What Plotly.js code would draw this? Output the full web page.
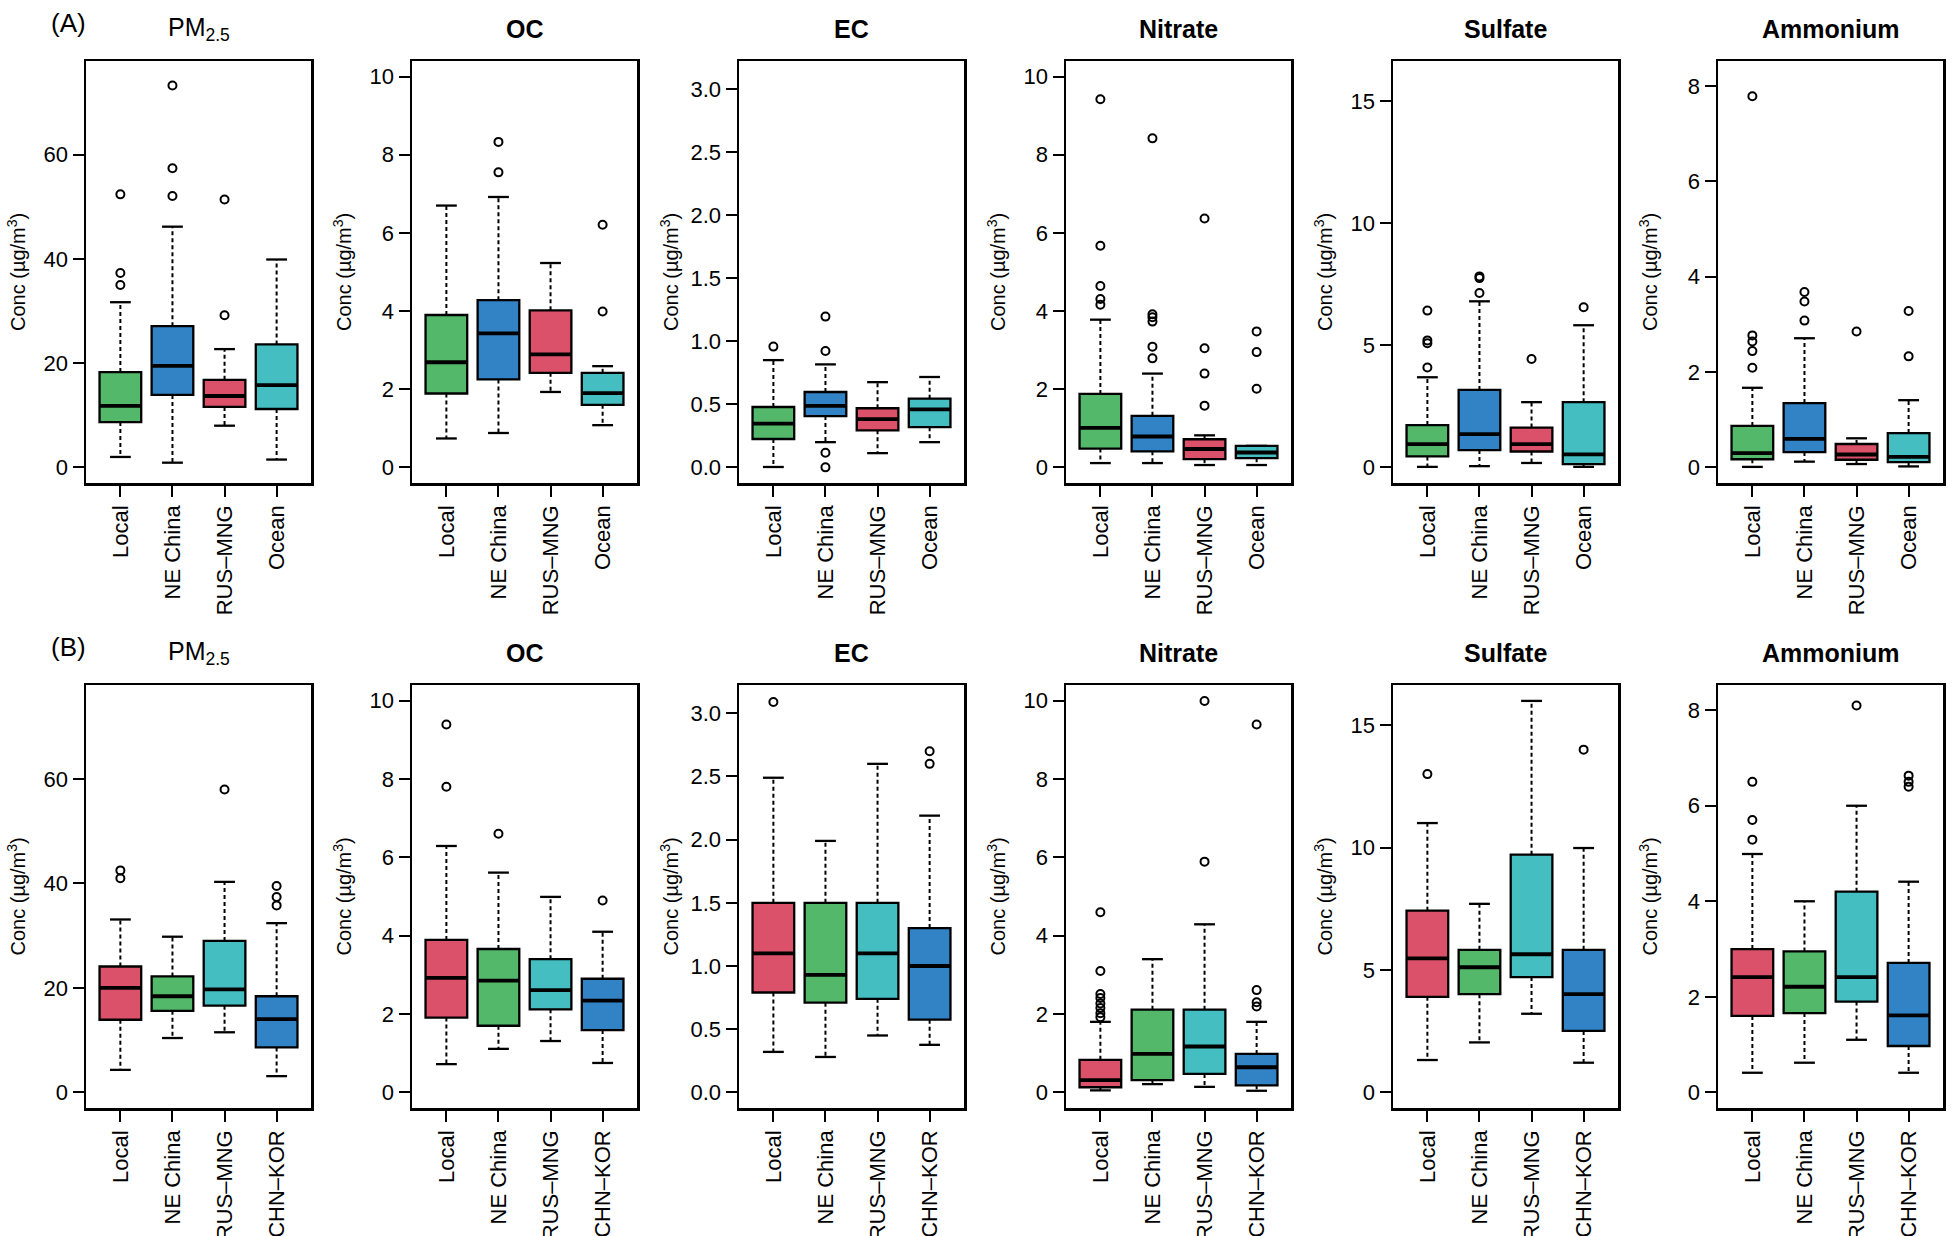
<!DOCTYPE html>
<html>
<head>
<meta charset="utf-8">
<script src="https://cdn.plot.ly/plotly-3.0.1.min.js"></script>
<style>html,body{margin:0;padding:0;background:#fff}</style>
</head>
<body>
<div id="chart" style="width:1952px;height:1236px"></div>
<script>
// species in column order
var species = ['PM<sub>2.5</sub>', '<b>OC</b>', '<b>EC</b>', '<b>Nitrate</b>', '<b>Sulfate</b>', '<b>Ammonium</b>'];
var catsA = ['Local', 'NE China', 'RUS\u2013MNG', 'Ocean'];
var catsB = ['Local', 'NE China', 'RUS\u2013MNG', 'CHN\u2013KOR'];
var yLim = [75, 10, 3.1, 10, 16, 8.2];
var yStep = [20, 2, 0.5, 2, 5, 2];

// (A) box stats, one row per species, one value per category
var q1A = [[8.7, 13.9, 11.6, 11.2], [1.89, 2.25, 2.42, 1.60], [0.225, 0.407, 0.294, 0.319],
           [0.48, 0.41, 0.21, 0.235], [0.45, 0.71, 0.65, 0.13], [0.17, 0.32, 0.16, 0.11]];
var medA = [[11.8, 19.5, 13.7, 15.8], [2.69, 3.43, 2.89, 1.90], [0.347, 0.488, 0.382, 0.460],
            [1.01, 0.79, 0.47, 0.38], [0.95, 1.36, 0.95, 0.53], [0.30, 0.60, 0.27, 0.22]];
var q3A = [[18.3, 27.1, 16.8, 23.6], [3.90, 4.28, 4.02, 2.42], [0.479, 0.598, 0.469, 0.545],
           [1.88, 1.32, 0.72, 0.55], [1.73, 3.17, 1.63, 2.67], [0.87, 1.35, 0.49, 0.72]];
var loA = [[2.0, 0.9, 8.0, 1.5], [0.74, 0.88, 1.93, 1.08], [0.003, 0.200, 0.113, 0.200],
           [0.11, 0.11, 0.06, 0.06], [0.02, 0.05, 0.18, 0.02], [0.01, 0.12, 0.07, 0.02]];
var hiA = [[31.7, 46.2, 22.7, 39.9], [6.70, 6.92, 5.23, 2.59], [0.851, 0.817, 0.676, 0.717],
           [3.78, 2.40, 0.82, 0.55], [3.69, 6.80, 2.67, 5.82], [1.67, 2.71, 0.61, 1.41]];
var outA = [
  [[52.4, 37.3, 35.0], [73.3, 57.4, 52.1], [51.4, 29.2], []],
  [[], [8.33, 7.55], [], [6.21, 3.99]],
  [[0.958], [1.196, 0.923, 0.116, 0.0], [], []],
  [[9.42, 5.67, 4.64, 4.31, 4.16], [8.42, 3.92, 3.84, 3.73, 3.09, 2.79], [6.37, 3.05, 2.40, 1.58], [3.48, 2.95, 2.01]],
  [[6.42, 5.20, 5.08, 4.09], [7.82, 7.75, 7.14], [4.44], [6.56]],
  [[7.79, 2.77, 2.64, 2.44, 2.09], [3.68, 3.48, 3.08], [2.85], [3.28, 2.33]]
];

// (B) box stats
var q1B = [[13.9, 15.6, 16.6, 8.6], [1.91, 1.70, 2.12, 1.59], [0.79, 0.71, 0.74, 0.575],
           [0.13, 0.31, 0.47, 0.18], [3.90, 4.01, 4.71, 2.51], [1.60, 1.66, 1.90, 0.97]];
var medB = [[20.0, 18.4, 19.7, 14.0], [2.92, 2.85, 2.61, 2.34], [1.10, 0.93, 1.10, 1.00],
            [0.31, 0.98, 1.17, 0.64], [5.47, 5.11, 5.64, 4.01], [2.41, 2.21, 2.41, 1.61]];
var q3B = [[24.1, 22.2, 29.0, 18.4], [3.89, 3.66, 3.40, 2.90], [1.50, 1.50, 1.50, 1.30],
           [0.83, 2.11, 2.11, 0.98], [7.42, 5.82, 9.71, 5.82], [3.00, 2.95, 4.20, 2.71]];
var loB = [[4.3, 10.4, 11.5, 3.1], [0.72, 1.11, 1.31, 0.75], [0.32, 0.28, 0.45, 0.376],
           [0.05, 0.21, 0.14, 0.04], [1.32, 2.04, 3.21, 1.21], [0.41, 0.62, 1.10, 0.41]];
var hiB = [[33.1, 29.8, 40.3, 32.4], [6.29, 5.61, 4.99, 4.10], [2.49, 1.99, 2.60, 2.19],
           [1.80, 3.40, 4.29, 1.80], [11.0, 7.70, 15.99, 9.98], [4.99, 4.00, 6.00, 4.41]];
var outB = [
  [[42.5, 41.0], [], [58.0], [39.5, 37.4, 35.8]],
  [[9.39, 7.80], [6.60], [], [4.90]],
  [[3.09], [], [], [2.70, 2.60]],
  [[4.60, 3.10, 2.51, 2.41, 2.27, 2.15, 2.02, 1.92], [], [9.99, 5.89], [9.39, 2.61, 2.30, 2.19]],
  [[13.0], [], [], [14.0]],
  [[6.50, 5.70, 5.29], [], [8.10], [6.63, 6.50, 6.40]]
];

var green = '#54B86A', blue = '#3283C6', red = '#DA5169', cyan = '#44BEC0';
var colorsA = [green, blue, red, cyan];
var colorsB = [red, green, cyan, blue];

var W = 1952, H = 1236;
var lefts = [86, 412, 739, 1066, 1393, 1718];
var pw = 225;
var rowTop = [61, 685], rowBot = [483, 1108];
var fontFam = 'Liberation Sans, Arial, sans-serif';

var rowsData = [
  {q1: q1A, med: medA, q3: q3A, lo: loA, hi: hiA, out: outA, cats: catsA, colors: colorsA, tag: '(A)'},
  {q1: q1B, med: medB, q3: q3B, lo: loB, hi: hiB, out: outB, cats: catsB, colors: colorsB, tag: '(B)'}
];

var traces = [];
var layout = {
  width: W, height: H,
  margin: {l: 0, r: 0, t: 0, b: 0},
  paper_bgcolor: '#fff', plot_bgcolor: '#fff',
  showlegend: false,
  font: {family: fontFam, color: '#000'},
  annotations: []
};

rowsData.forEach(function (rd, r) {
  layout.annotations.push({
    text: rd.tag, xref: 'paper', yref: 'paper', showarrow: false,
    x: 68 / W, y: 1 - (rowTop[r] - 38.5) / H, xanchor: 'center', yanchor: 'middle',
    font: {size: 26, family: fontFam, color: '#000'}
  });
  for (var s = 0; s < 6; s++) {
    var n = r * 6 + s + 1;
    var sfx = n === 1 ? '' : String(n);
    var xa = 'x' + sfx, ya = 'y' + sfx;
    layout['xaxis' + sfx] = {
      domain: [lefts[s] / W, (lefts[s] + pw) / W], anchor: ya,
      range: [0.34, 4.66], tickmode: 'array', tickvals: [1, 2, 3, 4], ticktext: rd.cats,
      tickangle: -90, ticks: 'outside', ticklen: 11, tickwidth: 2, tickcolor: '#000',
      showline: true, mirror: true, linewidth: 2.5, linecolor: '#000',
      showgrid: false, zeroline: false, fixedrange: true,
      tickfont: {size: 22, family: fontFam, color: '#000'}
    };
    layout['yaxis' + sfx] = {
      domain: [1 - rowBot[r] / H, 1 - rowTop[r] / H], anchor: xa,
      range: [-0.04 * yLim[s], 1.04 * yLim[s]], tickmode: 'linear', tick0: 0, dtick: yStep[s],
      tickformat: s === 2 ? '.1f' : '',
      ticks: 'outside', ticklen: 11, tickwidth: 2, tickcolor: '#000',
      showline: true, mirror: true, linewidth: 2.5, linecolor: '#000',
      showgrid: false, zeroline: false, fixedrange: true,
      tickfont: {size: 22, family: fontFam, color: '#000'}
    };
    // panel title and y title
    layout.annotations.push({
      text: species[s], xref: 'paper', yref: 'paper', showarrow: false,
      x: (lefts[s] + pw / 2) / W, y: 1 - (rowTop[r] - 32.5) / H, xanchor: 'center', yanchor: 'middle',
      font: {size: 25, family: fontFam, color: '#000'}
    });
    layout.annotations.push({
      text: 'Conc (\u00b5g/m<sup>3</sup>)', xref: 'paper', yref: 'paper', showarrow: false,
      x: (lefts[s] - 70) / W, y: 1 - (rowTop[r] + rowBot[r]) / 2 / H, xanchor: 'center', yanchor: 'middle',
      textangle: -90, font: {size: 20, family: fontFam, color: '#000'}
    });

    var wx = [], wy = [], cx = [], cy = [], mx = [], my = [], ox = [], oy = [];
    for (var k = 0; k < 4; k++) {
      var p = k + 1;
      traces.push({
        type: 'box', x: [p], q1: [rd.q1[s][k]], median: [rd.med[s][k]], q3: [rd.q3[s][k]],
        lowerfence: [rd.q1[s][k]], upperfence: [rd.q3[s][k]],
        width: 0.8, whiskerwidth: 0, boxpoints: false,
        fillcolor: rd.colors[k], line: {color: '#000', width: 2.3},
        hoverinfo: 'skip', xaxis: xa, yaxis: ya
      });
      wx.push(p, p, null, p, p, null);
      wy.push(rd.q3[s][k], rd.hi[s][k], null, rd.q1[s][k], rd.lo[s][k], null);
      cx.push(p - 0.2, p + 0.2, null, p - 0.2, p + 0.2, null);
      cy.push(rd.hi[s][k], rd.hi[s][k], null, rd.lo[s][k], rd.lo[s][k], null);
      mx.push(p - 0.4, p + 0.4, null);
      my.push(rd.med[s][k], rd.med[s][k], null);
      rd.out[s][k].forEach(function (v) { ox.push(p); oy.push(v); });
    }
    traces.push({type: 'scatter', mode: 'lines', x: wx, y: wy, xaxis: xa, yaxis: ya,
      line: {color: '#000', width: 2, dash: '4px,3px'}, hoverinfo: 'skip'});
    traces.push({type: 'scatter', mode: 'lines', x: cx, y: cy, xaxis: xa, yaxis: ya,
      line: {color: '#000', width: 2.3}, hoverinfo: 'skip'});
    traces.push({type: 'scatter', mode: 'lines', x: mx, y: my, xaxis: xa, yaxis: ya,
      line: {color: '#000', width: 3.8}, hoverinfo: 'skip'});
    traces.push({type: 'scatter', mode: 'markers', x: ox, y: oy, xaxis: xa, yaxis: ya,
      marker: {symbol: 'circle-open', size: 8, color: '#000', line: {width: 2, color: '#000'}},
      hoverinfo: 'skip'});
  }
});

Plotly.newPlot('chart', traces, layout, {displayModeBar: false, staticPlot: true});
</script>
</body>
</html>
